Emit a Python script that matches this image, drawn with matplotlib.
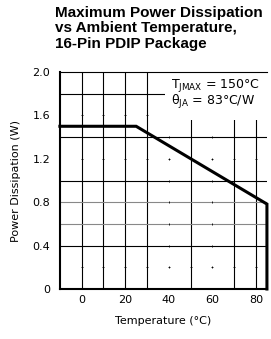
import matplotlib
matplotlib.use('Agg')
import matplotlib.pyplot as plt
from matplotlib.patches import Rectangle

# Derating curve: Tjmax = 150 C, theta_JA = 83 C/W
temp = [-10, 25, 85, 85]
power = [1.5, 1.5, 0.783, 0.0]

# grid layout as drawn in the datasheet
vlines = [0, 10, 20, 30, 50, 70, 80]
vdots = [40, 60]
hlines = [1.8, 1.4, 1.0, 0.8, 0.6, 0.4]
hgrey = [0.8, 0.6]
hdots = [1.6, 1.2, 0.2]

xticks = [0, 20, 40, 60, 80]
yticks = [0, 0.4, 0.8, 1.2, 1.6, 2.0]
yticklabels = ['0', '0.4', '0.8', '1.2', '1.6', '2.0']

fig = plt.figure(figsize=(2.71, 3.39), dpi=100)
ax = fig.add_axes([0.221, 0.1475, 0.764, 0.64])
ax.set_xlim(-10, 85)
ax.set_ylim(0, 2.0)

for x in vlines:
    ax.axvline(x, color='black', lw=0.8, zorder=1)
for y in hlines:
    c = '#888888' if y in hgrey else 'black'
    ax.axhline(y, color=c, lw=0.8, zorder=1)

# small dots where the grid is not drawn
for x in vdots:
    for y in hlines + hdots + [2.0]:
        ax.plot(x, y, marker='|', ms=2, color='black', mew=0.6, zorder=1)
for y in hdots:
    for x in vlines + vdots:
        ax.plot(x, y, marker='_', ms=2, color='black', mew=0.6, zorder=1)

# white box behind the note
ax.add_patch(Rectangle((38, 1.56), 47, 0.44, facecolor='white',
                       edgecolor='none', zorder=1.5))

ax.plot(temp, power, color='black', lw=2.2, zorder=3,
        solid_joinstyle='miter', clip_on=False)

ax.text(41, 1.88, r'T$_{\rm JMAX}$ = 150°C', fontsize=9, va='center', zorder=4)
ax.text(41, 1.72, r'θ$_{\rm JA}$ = 83°C/W', fontsize=9, va='center', zorder=4)

ax.set_xticks(xticks)
ax.set_yticks(yticks)
ax.set_yticklabels(yticklabels)
ax.tick_params(length=0, labelsize=8)
ax.tick_params(axis='x', pad=4)
ax.tick_params(axis='y', pad=7)
ax.spines['right'].set_visible(False)
ax.spines['left'].set_linewidth(1.5)
ax.spines['bottom'].set_linewidth(1.5)
ax.spines['top'].set_linewidth(0.8)

ax.set_xlabel('Temperature (°C)', fontsize=8, labelpad=8)
ax.set_ylabel('Power Dissipation (W)', fontsize=8, labelpad=8)

fig.text(0.203, 0.982, 'Maximum Power Dissipation\nvs Ambient Temperature,\n16-Pin PDIP Package',
         fontsize=11, fontweight='bold', family='Liberation Sans',
         va='top', ha='left', linespacing=1.12)

fig.savefig('out.png', dpi=100)
